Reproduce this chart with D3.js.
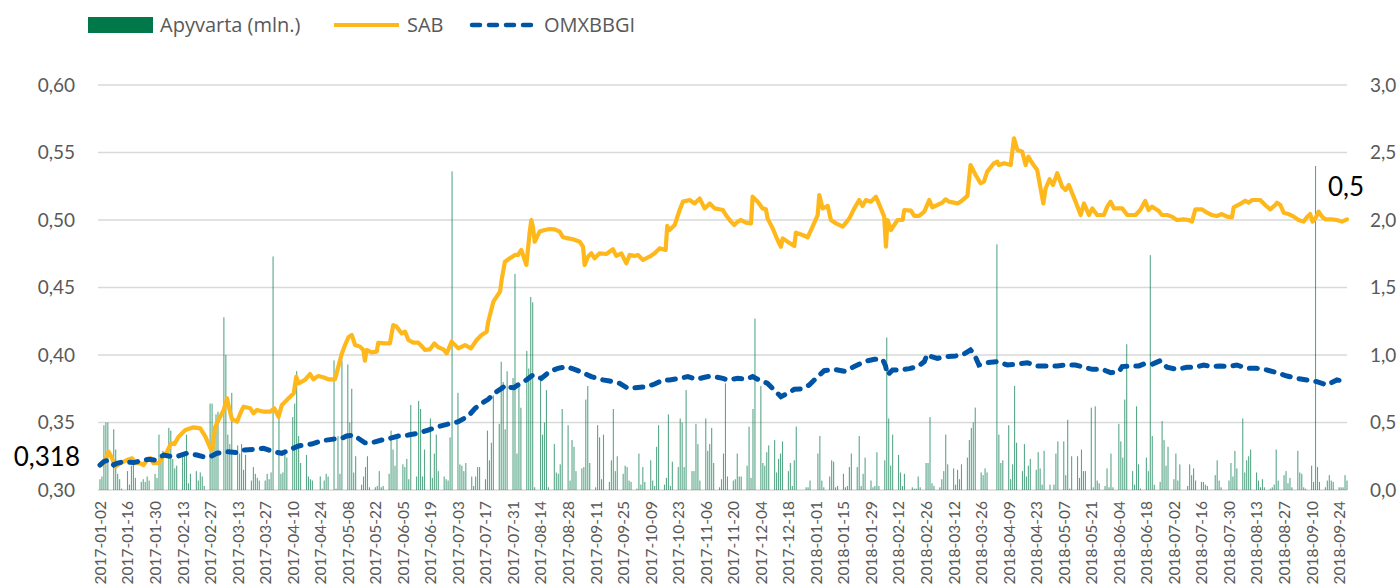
<!DOCTYPE html>
<html>
<head>
<meta charset="utf-8">
<script src="https://cdn.jsdelivr.net/npm/d3@7"></script>
<style>
  body { margin: 0; background: #fff; }
  svg text { font-family: Lato, "Open Sans", sans-serif; }
  svg .legend text { font-family: "Open Sans", sans-serif; }
</style>
</head>
<body>
<div id="c"></div>
<script>
"use strict";

// weekly blocks of daily turnover (mln.), Mon..Fri, week 0 = 2017-01-02
const volWeeks = [
  [0.08,0.1,0.48,0.5,0.5], [0.45,0.3,0.12,0.08,0.01], [0.14,0.04,0.18,0.19,0.09], [0.06,0.08,0.06,0.1,0.07],
  [0.12,0.09,0.41,0.2,0.29], [0.46,0.44,0.23,0.16,0.18], [0.27,0.25,0.41,0.05,0.12], [0.14,0.07,0.13,0.1,0.03],
  [0.64,0.64,0.34,0.56,0.58], [1.28,1.0,0.41,0.34,0.72], [0.33,0.27,0.34,0.15,0.26], [0.07,0.17,0.12,0.09,0.07],
  [0.07,0.12,0.08,0.13,1.73], [0.54,0.12,0.13,0.27,0.24], [0.54,0.64,0.88,0.4,0.2], [0.26,0.1,0.08,0.07,0],
  [0.1,0.01,0.07,0.12,0.1], [0.96,0.01,0.4,0.12,0.96], [0.93,0.5,0.75,0.13,0.25], [0.04,0.1,0.17,0.25,0.02],
  [0.02,0.03,0.14,0.02,0.03], [0.12,0.44,0.3,0.18,0.41], [0.19,0.17,0.23,0.08,0.63], [0.1,0.66,0.6,0.1,0.3],
  [0.53,0.09,0.27,0.41,0.14], [0.1,0.08,0.07,0.39,2.36], [0.72,0.19,0.18,0.14,0.2], [0.1,0.03,0.1,0.17,0.17],
  [0.08,0.44,0.22,0.35,0.7], [0.49,0.95,0.8,0.45,0.88], [0.83,1.6,0.27,0.78,0.61], [1.03,0.9,1.43,1.39,0.02],
  [0.82,0.41,0.5,0.74,0.02], [0.34,0.13,0.12,0.19,0.6], [0.48,0.07,0.37,0.32,0.14], [0.16,0.17,0.67,0.77,0.2],
  [0.02,0.48,0.39,0.08,0.41], [0.06,0.22,0.6,0.14,0.25], [0.12,0.18,0.17,0.07,0.06], [0.01,0.27,0.04,0.17,0.06],
  [0.22,0.07,0.03,0.32,0.48], [0.04,0.09,0.56,0.03,0.21], [0.17,0.53,0.5,0.17,0.74], [0.14,0.14,0.49,0.34,0.07],
  [0.53,0.29,0.34,0.46,0.2], [0.02,0.08,0.27,0.79,0.1], [0.07,0.08,0.27,0.1,0.1], [0.18,0.47,0.09,0.6,1.27],
  [0.77,0.2,0.18,0.28,0.33], [0.37,0.13,0.23,0.27,0.36], [0.14,0.2,0.03,0.22,0.47], [0,0,0.02,0.02,0.07],
  [0,0.27,0.4,0.07,0.02], [0.1,0.22,0.21,0.02,0.03], [0.12,0.02,0.03,0.17,0.27], [0.17,0.4,0.03,0.12,0.24],
  [0.07,0.02,0.03,0.28,0.03], [0.22,1.13,0.53,0.18,0.41], [0.26,0.13,0.03,0.12,0], [0.02,0.01,0.01,0.1,0.02],
  [0.2,0.2,0.54,0.05,0.03], [0.02,0.08,0.14,0.41,0.19], [0.16,0.04,0.15,0.08,0.19], [0.24,0.37,0.46,0.5,0.61],
  [0.13,0.11,0.16,0.13,0], [0,1.82,0.41,0.2,0.22], [0.48,0.08,0.19,0.77,0.35], [0.14,0.34,0.1,0.18,0.23],
  [0.15,0.28,0.16,0.04,0.29], [0.04,0,0.04,0.27,0.36], [0.36,0.11,0.52,0.01,0.25], [0.25,0.09,0.3,0.14,0.14],
  [0.61,0.02,0.62,0.07,0.05], [0.03,0.16,0.02,0.27,0.02], [0.49,0.36,0.24,0.67,1.08], [0.14,0.04,0.62,0.19,0.01],
  [0.24,0.14,1.74,0.4,0.04], [0.06,0.51,0.37,0.18,0.32], [0.08,0.27,0.07,0.19,0], [0.03,0.19,0.11,0.16,0.07],
  [0.06,0.06,0.04,0.03,0], [0.11,0.22,0.07,0.02,0], [0.07,0.2,0.1,0.29,0.16], [0.53,0.13,0.22,0.25,0.3],
  [0.13,0.07,0.02,0.08,0.02], [0.01,0.02,0.04,0.3,0.07], [0.11,0.14,0.05,0.09,0.02], [0.29,0.13,0.12,0.02,0.01],
  [0.18,0.06,2.4,0.17,0.06], [0.02,0.07,0.11,0.07,0.06], [0.02,0.02,0.02,0.11,0.07]
]

// SAB price: [days since 2017-01-02, EUR]
const sabPts = [
  [0,0.3185],[2,0.3198],[4.4,0.3284],[6.1,0.3235],[7.8,0.3173],[10.3,0.3198],[13.7,0.3222],[16.3,0.3235],
  [18,0.3198],[20.5,0.3198],[22.2,0.3185],[23.9,0.3222],[25.6,0.3235],[27.3,0.3198],[29.8,0.3198],[31.5,0.3235],
  [34.1,0.3284],[36.1,0.3346],[37.8,0.334],[40,0.3395],[43.4,0.3444],[47.6,0.3464],[51,0.3457],[53.6,0.3395],
  [56.1,0.3309],[57,0.3296],[58.6,0.3469],[60.3,0.3519],[62.9,0.3593],[64.6,0.3679],[65.9,0.3593],[67.1,0.3524],
  [69.7,0.3506],[71.7,0.358],[73,0.3617],[76.4,0.3605],[78.1,0.3568],[79.8,0.3593],[83.2,0.358],[86.6,0.358],
  [88.6,0.3605],[90.8,0.3543],[92.5,0.363],[95.9,0.3679],[98.5,0.3716],[99.8,0.3839],[101,0.379],[104.2,0.3815],
  [106.8,0.3859],[108.5,0.382],[111,0.3844],[113.5,0.3835],[116.1,0.382],[119.5,0.382],[121.2,0.3914],[122.9,0.4007],
  [124.6,0.4074],[126.3,0.4131],[128,0.4148],[129.7,0.4074],[132.2,0.4062],[133.9,0.4037],[134.7,0.3958],[135.6,0.4037],
  [138.1,0.402],[140.7,0.4025],[141.5,0.4091],[144.9,0.4086],[147.4,0.4086],[149.1,0.4222],[150.8,0.421],[153.4,0.416],
  [155.1,0.4173],[156.8,0.4111],[159.3,0.4091],[161.8,0.4091],[163.5,0.4067],[165.2,0.4037],[167.8,0.4042],[170,0.4086],
  [172,0.4057],[174.6,0.4042],[176.3,0.4012],[178.8,0.4099],[182.2,0.4049],[185.6,0.4074],[188.6,0.4049],[191.5,0.4111],
  [194,0.4148],[196.6,0.4173],[197.4,0.4247],[200,0.4395],[203.4,0.4469],[204.2,0.4556],[205.9,0.4691],[208.4,0.4716],
  [211,0.4741],[212.5,0.4741],[214.2,0.4778],[216.8,0.4667],[218.4,0.4901],[219.3,0.5],[220.1,0.4951],[221,0.4839],
  [223.5,0.4914],[226.1,0.4926],[228.6,0.4933],[231.2,0.4931],[233.7,0.4914],[235.4,0.4872],[238,0.4864],[240.5,0.4857],
  [243.9,0.4839],[245.6,0.4802],[246.4,0.4667],[248.1,0.4728],[249.8,0.4753],[251.5,0.4716],[254,0.4753],[257.4,0.4748],
  [260.8,0.4783],[262.5,0.4734],[265.1,0.4753],[267.6,0.4679],[269.3,0.4741],[271.8,0.4734],[273.5,0.4741],[276.1,0.4704],
  [279.4,0.4728],[282,0.4753],[284.5,0.479],[287.6,0.4778],[288.4,0.4956],[289.6,0.4926],[292.2,0.4963],[294.7,0.5074],
  [296.4,0.5136],[299.8,0.5148],[302.3,0.5123],[304.9,0.516],[307.4,0.5086],[310,0.5123],[312.5,0.5086],[316.7,0.5074],
  [318.2,0.5037],[320.8,0.4988],[322.5,0.4963],[324.2,0.4988],[325.9,0.5],[328.4,0.4981],[331,0.4975],[331.8,0.5173],
  [334.4,0.5136],[336.9,0.5086],[338.6,0.5079],[339.4,0.5012],[342,0.4938],[344.5,0.4852],[346.2,0.4802],[347.1,0.4864],
  [349.6,0.4839],[353,0.4807],[353.8,0.4906],[357.2,0.4889],[359.8,0.4872],[362.3,0.4951],[364.9,0.5037],[365.7,0.5185],
  [367.4,0.5086],[370,0.5104],[371.6,0.5],[374.2,0.4975],[377.6,0.4951],[381,0.5012],[383.5,0.5086],[386,0.5148],
  [387.7,0.5104],[389.4,0.5148],[391.9,0.5136],[394.5,0.5173],[397,0.5086],[398.7,0.5025],[399.6,0.4802],[400.4,0.5],
  [402.1,0.4926],[403.8,0.4963],[405.5,0.5],[408.1,0.5],[408.9,0.5074],[412.3,0.5069],[414,0.503],[416.5,0.503],
  [419.1,0.5062],[421.6,0.5148],[423.2,0.5094],[425.7,0.5111],[428.2,0.5128],[429.9,0.5153],[431.6,0.5136],[435.9,0.5123],
  [437.6,0.5136],[441,0.5178],[442.6,0.5407],[445.2,0.5333],[447.7,0.5272],[449.4,0.5284],[451.1,0.5358],[454.5,0.542],
  [456.2,0.5432],[457,0.5407],[459.6,0.542],[463,0.5407],[464.7,0.5605],[466.4,0.5519],[468.9,0.5506],[470.6,0.5407],
  [472,0.5469],[474,0.542],[476.5,0.537],[477.9,0.5259],[479.6,0.5123],[480.8,0.5235],[482.8,0.5302],[484.5,0.5259],
  [486.7,0.5346],[489.2,0.5247],[490.9,0.5222],[492.6,0.5259],[496,0.5136],[498.6,0.5037],[500.3,0.5123],[502.8,0.5037],
  [504.5,0.5086],[507,0.5037],[510.4,0.5037],[512.1,0.5099],[513.8,0.5136],[515.5,0.5086],[519.7,0.5086],[522.3,0.5037],
  [526.5,0.5037],[528.9,0.5074],[531.4,0.5141],[533.1,0.5074],[534.8,0.5099],[538.2,0.5069],[539.9,0.5037],[542.5,0.5037],
  [545,0.5025],[547.5,0.5],[550.9,0.5005],[553.5,0.5],[555.2,0.4988],[556.9,0.5079],[560.2,0.5079],[562.8,0.5054],
  [565.3,0.5037],[567.9,0.503],[570.4,0.5044],[573,0.5025],[575.5,0.502],[576.4,0.5094],[579.7,0.5119],[582.3,0.5143],
  [584,0.5128],[585.7,0.5148],[589.9,0.5148],[592.4,0.5111],[595,0.5079],[597.5,0.5111],[598.4,0.5128],[600.1,0.5111],
  [601.8,0.5054],[604.3,0.5044],[606.9,0.5025],[609.4,0.5],[611.9,0.4988],[613.6,0.502],[615.3,0.5044],[616.5,0.4988],
  [617.9,0.5012],[619.6,0.5062],[621.3,0.5025],[623,0.5005],[626.3,0.5005],[628.9,0.5],[631.4,0.4988],[634,0.5005]
]

// OMXBBGI rebased to SAB start
const omxPts = [
  [0,0.3185],[1.9,0.321],[4.4,0.3222],[7,0.3185],[8.6,0.3198],[12,0.321],[17.1,0.3203],[20.5,0.3215],
  [24.7,0.3227],[28.1,0.3222],[32.4,0.3259],[36.6,0.3247],[40,0.3252],[44.2,0.3272],[49.3,0.3259],[53.6,0.3242],
  [56.1,0.3247],[59.5,0.3272],[64.6,0.3284],[69.7,0.3277],[73,0.3296],[78.1,0.3301],[83.2,0.3309],[88.3,0.3284],
  [92.5,0.3272],[96.8,0.3301],[101,0.3326],[105.2,0.3338],[107.6,0.334],[112.7,0.3365],[117.8,0.3375],[122.9,0.3383],
  [125.4,0.34],[128.8,0.3407],[131.3,0.3383],[134.7,0.335],[138.1,0.335],[143.2,0.337],[147.4,0.3383],[151.7,0.34],
  [156.8,0.3407],[161.8,0.342],[166.9,0.3444],[172,0.3469],[177.1,0.3489],[182.2,0.3506],[187.3,0.3548],[190.7,0.3605],
  [194.1,0.3642],[197.4,0.3672],[200.8,0.3721],[204.2,0.3753],[206.4,0.3778],[208.4,0.376],[210.5,0.3758],[212.5,0.3778],
  [216.8,0.3815],[220.1,0.3852],[224.4,0.3827],[228.6,0.3877],[232.8,0.3901],[237.1,0.3914],[241.3,0.3894],[245.6,0.3869],
  [249.8,0.384],[254,0.382],[259.1,0.3807],[264.2,0.379],[268.4,0.3753],[273.5,0.376],[277.8,0.3765],[282,0.3785],
  [286.2,0.3815],[289.6,0.3815],[294.7,0.3827],[298.9,0.384],[303.2,0.382],[307.4,0.3835],[310.8,0.3844],[316.7,0.3827],
  [319.1,0.3815],[324.2,0.3827],[328.4,0.382],[331.8,0.384],[334.4,0.382],[339.4,0.379],[342.8,0.3741],[346.2,0.3691],
  [349.6,0.3716],[353,0.3746],[357.2,0.375],[360.6,0.3778],[364,0.3827],[368.2,0.3884],[373.3,0.3894],[378.4,0.3879],
  [383.5,0.3914],[388.6,0.3951],[393.7,0.3968],[397.9,0.3968],[399.4,0.3919],[400.4,0.3852],[403,0.3889],[407.2,0.3889],
  [411.5,0.3899],[415.7,0.3914],[419.1,0.3951],[420.6,0.4005],[421.5,0.3993],[425.7,0.3975],[429.9,0.3988],[435,0.3993],
  [438.4,0.4],[442.6,0.4037],[444.3,0.4012],[446.9,0.3926],[451.1,0.3943],[456.2,0.3951],[461.3,0.3926],[466.4,0.3933],
  [471.5,0.3943],[476.5,0.3919],[481.6,0.3919],[486.7,0.3919],[490.9,0.3926],[496,0.3926],[500.3,0.3909],[504.5,0.3894],
  [509.6,0.3894],[513.8,0.3869],[518.1,0.3877],[519.7,0.3914],[524,0.3919],[528.2,0.3919],[530.6,0.3933],[534.8,0.3931],
  [539.1,0.3958],[542.5,0.3909],[547.5,0.3894],[552.6,0.3909],[556.9,0.3909],[561.1,0.3926],[565.3,0.3914],[569.6,0.3919],
  [573.8,0.3914],[578,0.3926],[583.1,0.3901],[588.2,0.3901],[593.3,0.3889],[598.4,0.3869],[603.5,0.3844],[608.6,0.3827],
  [613.6,0.3815],[618.7,0.3802],[623.8,0.3778],[628.9,0.3815],[634,0.3802]
]

const leftTicks = [0.30, 0.35, 0.40, 0.45, 0.50, 0.55, 0.60]
const rightTicks = [0, 0.5, 1.0, 1.5, 2.0, 2.5, 3.0]
const startLabel = "0,318"
const endLabel = "0,5"

const W = 1398, H = 585
const plot = { left: 98, right: 1347, top: 85, bottom: 490 }
const green = "#00784a", yellow = "#ffb81c", blue = "#0054a6", grid = "#d9d9d9", tickCol = "#595959"

const t0 = Date.UTC(2017, 0, 2)
const dayDate = d => new Date(t0 + d * 864e5 + 12 * 36e5)   // day centre

const xScale = d3.scaleUtc()
    .domain([new Date(t0 - 12 * 36e5), new Date(Date.UTC(2018, 8, 28) + 12 * 36e5)])
    .range([plot.left, plot.right])
const yLeft = d3.scaleLinear().domain([0.30, 0.60]).range([plot.bottom, plot.top])
const yRight = d3.scaleLinear().domain([0, 3.0]).range([plot.bottom, plot.top])
const comma = f => v => d3.format(f)(v).replace(".", ",")

const svg = d3.select("#c").append("svg").attr("width", W).attr("height", H)

// gridlines
svg.append("g").selectAll("line").data(leftTicks).join("line")
    .attr("x1", plot.left).attr("x2", plot.right)
    .attr("y1", d => yLeft(d)).attr("y2", d => yLeft(d))
    .attr("stroke", grid).attr("stroke-width", 1.5)

// left axis
svg.append("g")
    .attr("transform", "translate(" + (plot.left - 20) + ",0)")
    .call(d3.axisLeft(yLeft).tickValues(leftTicks).tickSize(0).tickFormat(comma(".2f")))
    .call(g => g.select(".domain").remove())
    .call(g => g.selectAll("text").attr("font-size", 19).attr("fill", tickCol).attr("dx", 0))

// right axis
svg.append("g")
    .attr("transform", "translate(" + (plot.right + 20) + ",0)")
    .call(d3.axisRight(yRight).tickValues(rightTicks).tickSize(0).tickFormat(comma(".1f")))
    .call(g => g.select(".domain").remove())
    .call(g => g.selectAll("text").attr("font-size", 19).attr("fill", tickCol).attr("dx", 0))

// x axis: every 14 days
const xTicks = d3.range(0, 631, 14).map(dayDate)
svg.append("g")
    .attr("transform", "translate(0," + (plot.bottom + 11) + ")")
    .call(d3.axisBottom(xScale).tickValues(xTicks).tickSize(0).tickFormat(d3.utcFormat("%Y-%m-%d")))
    .call(g => g.select(".domain").remove())
    .call(g => g.selectAll("text")
        .attr("font-size", 15.5).attr("fill", tickCol)
        .attr("transform", "rotate(-90)")
        .attr("text-anchor", "end").attr("x", 0).attr("y", 0).attr("dx", 0).attr("dy", "0.35em"))

// turnover bars
const vols = []
volWeeks.forEach((wk, w) => wk.forEach((v, i) => { if (v > 0) vols.push({ day: w * 7 + i, value: v }) }))
const barW = 1.1
svg.append("g").selectAll("rect").data(vols).join("rect")
    .attr("x", d => xScale(dayDate(d.day)) - barW / 2)
    .attr("width", barW)
    .attr("y", d => yRight(d.value))
    .attr("height", d => yRight(0) - yRight(d.value))
    .attr("fill", green).attr("fill-opacity", 0.65)

const line = d3.line()
    .x(d => xScale(dayDate(d[0])))
    .y(d => yLeft(d[1]))

svg.append("path").datum(sabPts)
    .attr("d", line).attr("fill", "none")
    .attr("stroke", yellow).attr("stroke-width", 4.2)
    .attr("stroke-linejoin", "round").attr("stroke-linecap", "round")

svg.append("path").datum(omxPts)
    .attr("d", line).attr("fill", "none")
    .attr("stroke", blue).attr("stroke-width", 5)
    .attr("stroke-dasharray", "8,9").attr("stroke-linecap", "round")

// value labels
svg.append("text").text(startLabel)
    .attr("x", 80).attr("y", 466)
    .attr("text-anchor", "end").attr("font-size", 26).attr("fill", "#000")
svg.append("text").text(endLabel)
    .attr("x", 1328).attr("y", 196)
    .attr("font-size", 26).attr("fill", "#000")

// legend
const legend = svg.append("g").attr("class", "legend").attr("font-size", 20).attr("fill", tickCol)
legend.append("rect").attr("x", 88).attr("y", 17).attr("width", 65).attr("height", 16).attr("fill", green)
legend.append("text").attr("x", 160).attr("y", 32).text("Apyvarta (mln.)")
legend.append("line").attr("x1", 334).attr("x2", 399).attr("y1", 25).attr("y2", 25)
    .attr("stroke", yellow).attr("stroke-width", 4)
legend.append("text").attr("x", 407).attr("y", 32).text("SAB")
legend.append("line").attr("x1", 472).attr("x2", 536).attr("y1", 25).attr("y2", 25)
    .attr("stroke", blue).attr("stroke-width", 4.5)
    .attr("stroke-dasharray", "8,9").attr("stroke-linecap", "round")
legend.append("text").attr("x", 544).attr("y", 32).text("OMXBBGI")
</script>
</body>
</html>
